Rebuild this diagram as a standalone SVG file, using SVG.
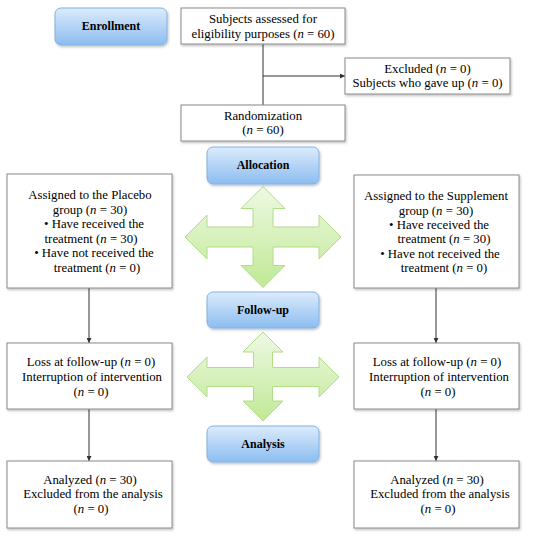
<svg xmlns="http://www.w3.org/2000/svg" width="550" height="537" viewBox="0 0 550 537">
<defs>
<linearGradient id="blue" x1="0" y1="0" x2="0" y2="1">
<stop offset="0" stop-color="#dcebfc"/>
<stop offset="1" stop-color="#8cbdf0"/>
</linearGradient>
<linearGradient id="green" x1="0" y1="0" x2="0" y2="1">
<stop offset="0" stop-color="#eef9e3"/>
<stop offset="1" stop-color="#c0e995"/>
</linearGradient>
<filter id="sh" x="-10%" y="-10%" width="130%" height="140%">
<feDropShadow dx="1" dy="1.5" stdDeviation="1" flood-color="#000" flood-opacity="0.25"/>
</filter>
<marker id="ah" viewBox="0 0 8 8" refX="8" refY="4" markerWidth="5" markerHeight="5" orient="auto" markerUnits="userSpaceOnUse">
<path d="M0,0 L8,4 L0,8 Z" fill="#333"/>
</marker>
<style>
.box{fill:#fff;stroke:#8a8a8a;stroke-width:1;filter:url(#sh)}
.stage{fill:url(#blue);stroke:#82b2e3;stroke-width:1;filter:url(#sh)}
.cross{fill:url(#green);stroke:#b3dc88;stroke-width:1}
text{font-family:"Liberation Serif","Times New Roman",serif;font-size:12.8px;fill:#000;text-anchor:middle}
.lbl{font-weight:bold;font-size:12px}
.n{font-style:italic}
.con{stroke:#333;stroke-width:1;fill:none}
</style>
</defs>

<g id="connectors">
<line class="con" x1="263" y1="44" x2="263" y2="105"/>
<line class="con" x1="263" y1="76" x2="345" y2="76" marker-end="url(#ah)"/>
<line class="con" x1="89" y1="288" x2="89" y2="343" marker-end="url(#ah)"/>
<line class="con" x1="89" y1="409" x2="89" y2="461" marker-end="url(#ah)"/>
<line class="con" x1="436" y1="288" x2="436" y2="343" marker-end="url(#ah)"/>
<line class="con" x1="436" y1="409" x2="436" y2="461" marker-end="url(#ah)"/>
</g>

<g id="cross1">
<path class="cross" d="M263,186.5 L285,208.5 L273,208.5 L273,227 L319,227 L319,215 L341,237 L319,259 L319,247 L273,247 L273,265.5 L285,265.5 L263,287.5 L241,265.5 L253,265.5 L253,247 L207,247 L207,259 L185,237 L207,215 L207,227 L253,227 L253,208.5 L241,208.5 Z"/>
</g>
<g id="cross2">
<path class="cross" d="M263,332 L283,352 L272.5,352 L272.5,367.5 L319,367.5 L319,357 L339,377 L319,397 L319,386.5 L272.5,386.5 L272.5,401 L283,401 L263,421 L243,401 L253.5,401 L253.5,386.5 L207,386.5 L207,397 L187,377 L207,357 L207,367.5 L253.5,367.5 L253.5,352 L243,352 Z"/>
</g>

<g id="enrollment">
<rect class="stage" x="55" y="8" width="112" height="37" rx="6"/>
<text class="lbl" x="111" y="30">Enrollment</text>
</g>
<g id="allocation">
<rect class="stage" x="207" y="147" width="112" height="37" rx="6"/>
<text class="lbl" x="263" y="169">Allocation</text>
</g>
<g id="followup">
<rect class="stage" x="207" y="292" width="112" height="36" rx="6"/>
<text class="lbl" x="263" y="314">Follow-up</text>
</g>
<g id="analysis">
<rect class="stage" x="207" y="426" width="112" height="36" rx="6"/>
<text class="lbl" x="263" y="448">Analysis</text>
</g>

<g id="assessed">
<rect class="box" x="181" y="8" width="164" height="36"/>
<text x="263" y="23">Subjects assessed for</text>
<text x="263" y="38">eligibility purposes (<tspan class="n">n</tspan> = 60)</text>
</g>
<g id="excluded">
<rect class="box" x="345" y="58" width="165" height="36"/>
<text x="427.5" y="73">Excluded (<tspan class="n">n</tspan> = 0)</text>
<text x="427.5" y="87">Subjects who gave up (<tspan class="n">n</tspan> = 0)</text>
</g>
<g id="randomization">
<rect class="box" x="181" y="105" width="164" height="36"/>
<text x="263" y="120">Randomization</text>
<text x="263" y="134">(<tspan class="n">n</tspan> = 60)</text>
</g>

<g id="placebo">
<rect class="box" x="7" y="174" width="165" height="114"/>
<text x="90" y="199">Assigned to the Placebo</text>
<text x="90" y="214">group (<tspan class="n">n</tspan> = 30)</text>
<text x="94" y="228">•  Have received the</text>
<text x="91" y="243">treatment (<tspan class="n">n</tspan> = 30)</text>
<text x="94" y="257">•  Have not received the</text>
<text x="97" y="272">treatment (<tspan class="n">n</tspan> = 0)</text>
</g>
<g id="supplement">
<rect class="box" x="354" y="175" width="165" height="113"/>
<text x="436" y="200">Assigned to the Supplement</text>
<text x="436" y="215">group (<tspan class="n">n</tspan> = 30)</text>
<text x="439" y="229">•  Have received the</text>
<text x="444" y="243">treatment (<tspan class="n">n</tspan> = 30)</text>
<text x="440" y="258">•  Have not received the</text>
<text x="444" y="272">treatment (<tspan class="n">n</tspan> = 0)</text>
</g>

<g id="loss-left">
<rect class="box" x="7" y="343" width="165" height="66"/>
<text x="91" y="366">Loss at follow-up (<tspan class="n">n</tspan> = 0)</text>
<text x="92" y="381">Interruption of intervention</text>
<text x="91" y="396">(<tspan class="n">n</tspan> = 0)</text>
</g>
<g id="loss-right">
<rect class="box" x="354" y="343" width="165" height="66"/>
<text x="437" y="366">Loss at follow-up (<tspan class="n">n</tspan> = 0)</text>
<text x="439" y="381">Interruption of intervention</text>
<text x="438" y="396">(<tspan class="n">n</tspan> = 0)</text>
</g>
<g id="analyzed-left">
<rect class="box" x="7" y="461" width="165" height="67"/>
<text x="90" y="484">Analyzed (<tspan class="n">n</tspan> = 30)</text>
<text x="93" y="498">Excluded from the analysis</text>
<text x="91" y="513">(<tspan class="n">n</tspan> = 0)</text>
</g>
<g id="analyzed-right">
<rect class="box" x="354" y="461" width="165" height="67"/>
<text x="437" y="484">Analyzed (<tspan class="n">n</tspan> = 30)</text>
<text x="440" y="498">Excluded from the analysis</text>
<text x="438" y="513">(<tspan class="n">n</tspan> = 0)</text>
</g>
</svg>
